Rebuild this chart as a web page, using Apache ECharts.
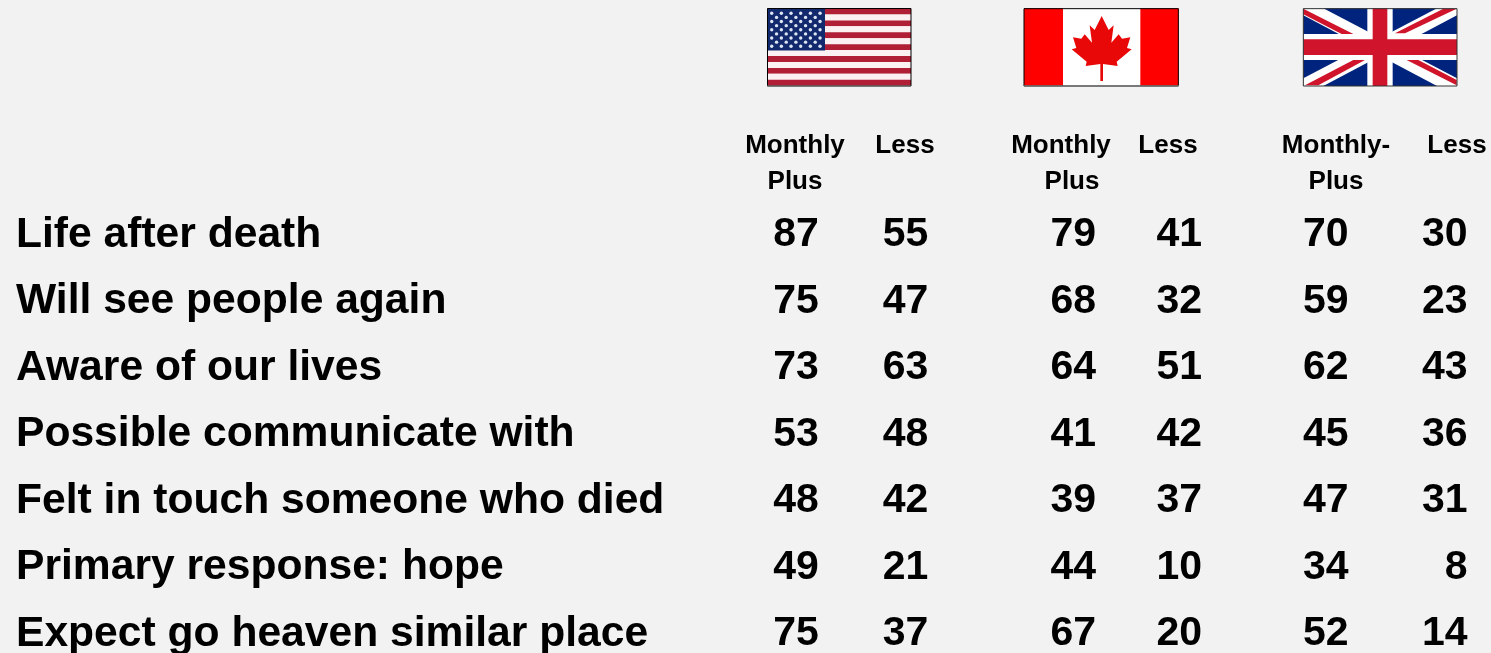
<!DOCTYPE html>
<html><head><meta charset="utf-8">
<style>html,body{margin:0;padding:0;background:#f2f2f2}#c{width:1491px;height:653px}</style>
<script src="https://cdn.jsdelivr.net/npm/echarts@6/dist/echarts.min.js"></script>
</head><body><div id="c"></div>
<script>
const rows = ['Life after death','Will see people again','Aware of our lives','Possible communicate with','Felt in touch someone who died','Primary response: hope','Expect go heaven similar place'];
const columns = ['Monthly Plus','Less'];
const usMonthly = [87,75,73,53,48,49,75];
const usLess = [55,47,63,48,42,21,37];
const caMonthly = [79,68,64,41,39,44,67];
const caLess = [41,32,51,42,37,10,20];
const ukMonthly = [70,59,62,45,47,34,52];
const ukLess = [30,23,43,36,31,8,14];
const headerLabels = ['Monthly','Plus','Less','Monthly','Plus','Less','Monthly-','Plus','Less'];

const FONT = '"Liberation Sans", Arial, sans-serif';
const gridBoxes = [{left:740,width:219},{left:1019,width:212},{left:1265,width:238}];
const groups = [[usMonthly,usLess],[caMonthly,caLess],[ukMonthly,ukLess]];

const grids = gridBoxes.map(b => ({left:b.left,width:b.width,top:201.5,height:465.5,containLabel:false,outerBoundsMode:'none'}));
const xAxes = gridBoxes.map((b,i) => ({type:'category',gridIndex:i,data:columns,show:false}));
const yAxes = gridBoxes.map((b,i) => ({
  type:'category',gridIndex:i,data:rows,inverse:true,show:i===0,
  axisLine:{show:false},axisTick:{show:false},splitLine:{show:false},
  axisLabel:{show:i===0,align:'left',margin:724,color:'#000',fontFamily:FONT,fontWeight:'bold',fontSize:42.6}
}));
const series = [];
groups.forEach((g,gi) => g.forEach((vals,ci) => series.push({
  type:'scatter',xAxisIndex:gi,yAxisIndex:gi,symbolSize:0,silent:true,clip:false,
  name:columns[ci],itemStyle:{opacity:1},
  data:vals.map((v,ri) => [ci,ri,v]),
  label:{show:true,position:'left',distance:-24,color:'#000',opacity:1,fontFamily:FONT,fontWeight:'bold',fontSize:41,
    formatter:p => String(p.value[2])}
})));

const headerPos = [[795,146],[795,182],[905,146],[1061,146],[1072,182],[1168,146],[1336,146],[1336,182],[1457,146]];
const headers = headerLabels.map((t,i) => ({type:'text',x:headerPos[i][0],y:headerPos[i][1],
  style:{text:t,x:0,y:0,align:'center',verticalAlign:'middle',fill:'#000',font:'bold 26px '+FONT}}));

function poly(points,fill){return {type:'polygon',shape:{points},style:{fill}};}
function rect(x,y,w,h,fill,extra){return {type:'rect',shape:{x,y,width:w,height:h},style:Object.assign({fill},extra||{})};}

// US flag
const us = [];
for(let i=0;i<13;i++) us.push(rect(767,8.5+i*5.94,144,5.94,i%2?'#fbf1f3':'#b01f35'));
us.push(rect(767.5,9,57.5,41.5,'#12296e'));
for(let r=0;r<9;r++){const n=r%2?5:6;for(let c=0;c<n;c++){
  us.push({type:'circle',shape:{cx:771.7+(r%2?4.85:0)+c*9.67,cy:13.3+r*4.12,r:1.7},style:{fill:'#dfe6f3'}});}}
us.push(rect(767.5,8.5,143.5,77.5,'none',{stroke:'#000',lineWidth:1}));
us.push(rect(767,85.5,144,1,'#777'));

// Canadian flag (drawn in 3x crop units)
const leafRight=[[275,48],[296,90],[311,76],[304,128],[326,103],[336,116],[361,112],[351,144],[365,148],[320,185],[323,198],[279,192],[279,243]];
const leaf=leafRight.concat(leafRight.slice(1).reverse().map(p=>[550-p[0],p[1]]));
const ca={type:'group',x:1010,y:0,scaleX:1/3,scaleY:1/3,children:[
  rect(42,25,464,233,'#fff'),rect(42,25,117,233,'#f00'),rect(391,25,115,233,'#f00'),
  poly(leaf,'#e80808'),
  rect(42,26,463,232,'none',{stroke:'#000',lineWidth:3}),
  rect(41,256,466,3,'#777')
]};

// UK flag (drawn in 3x crop units)
const uk={type:'group',x:1290,y:0,scaleX:1/3,scaleY:1/3,children:[
  rect(40,25,461,233,'#00247d'),
  poly([[40,25],[100,25],[501,235],[501,258],[441,258],[40,46]],'#fff'),
  poly([[501,25],[441,25],[40,235],[40,258],[100,258],[501,46]],'#fff'),
  poly([[40,26],[190,102],[155,102],[40,43]],'#cf142b'),
  poly([[500,26],[460,26],[315,100],[345,100]],'#cf142b'),
  poly([[350,180],[385,180],[500,240],[500,256]],'#cf142b'),
  poly([[190,180],[225,180],[85,256],[45,256]],'#cf142b'),
  rect(232,25,76,233,'#fff'),rect(40,102,461,78,'#fff'),
  rect(248,25,44,233,'#cf142b'),rect(40,118,461,47,'#cf142b'),
  rect(40,26,461,232,'none',{stroke:'#333',lineWidth:3})
]};

const chart=echarts.init(document.getElementById('c'),null,{renderer:'canvas',width:1491,height:653});
chart.setOption({
  animation:false,backgroundColor:'#f2f2f2',
  grid:grids,xAxis:xAxes,yAxis:yAxes,series,
  graphic:{elements:[...headers,{type:'group',children:us},ca,uk]}
});
</script></body></html>
